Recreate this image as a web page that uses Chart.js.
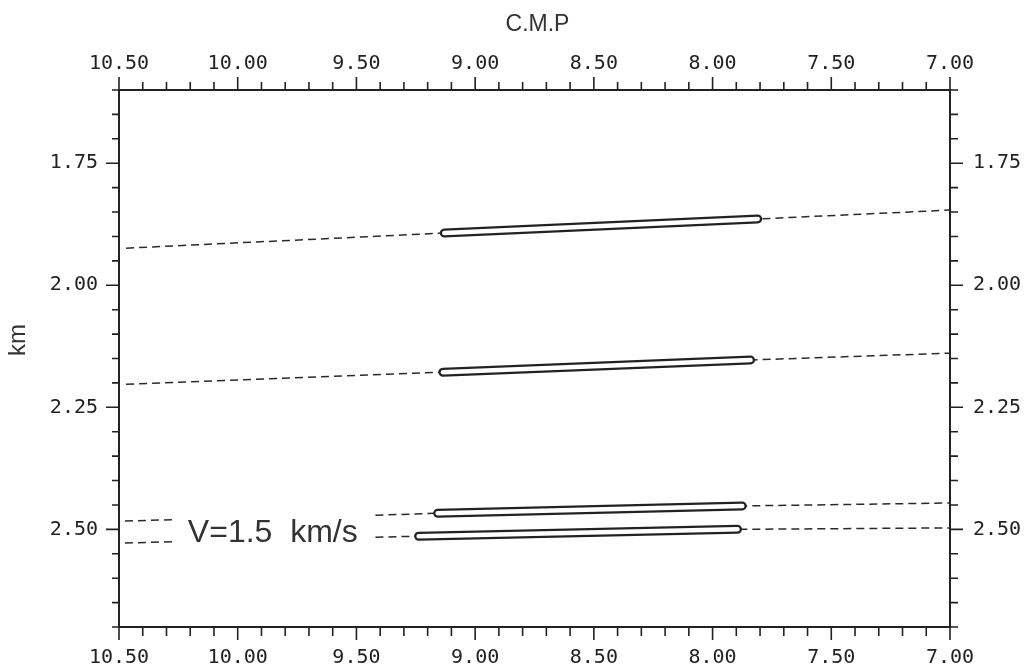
<!DOCTYPE html>
<html>
<head>
<meta charset="utf-8">
<script src="https://cdn.jsdelivr.net/npm/chart.js@4"></script>
<style>
  body { margin: 0; background: #fff; }
  canvas { display: block; }
</style>
</head>
<body>
<canvas id="cmpChart" width="1028" height="667"></canvas>
<script>
// Axis ranges and labelled ticks
const cmpRange = [7.00, 10.50];
const depthRange = [1.60, 2.70];
const cmpTicks = [10.50, 10.00, 9.50, 9.00, 8.50, 8.00, 7.50, 7.00];
const depthTicks = [1.75, 2.00, 2.25, 2.50];
const cmpMinorStep = 0.1;
const depthMinorStep = 0.05;

// Reflector traces (dashed), null = gap
const line1Cmp = [10.47, 9.13, 7.80, 7.00];
const line1Depth = [1.924, 1.893, 1.864, 1.846];
const line2Cmp = [10.47, 9.136, 7.836, 7.00];
const line2Depth = [2.203, 2.178, 2.153, 2.139];
const line3Cmp = [10.475, 10.26, 10.0, 9.42, 9.158, 7.87, 7.00];
const line3Depth = [2.483, 2.480, null, 2.471, 2.467, 2.452, 2.446];
const line4Cmp = [10.475, 10.26, 10.0, 9.42, 9.238, 7.89, 7.00];
const line4Depth = [2.528, 2.525, null, 2.516, 2.514, 2.500, 2.497];

// Picked segments (drawn as hollow tubes)
const tube1Cmp = [9.13, 7.81];
const tube1Depth = [1.893, 1.864];
const tube2Cmp = [9.136, 7.84];
const tube2Depth = [2.178, 2.153];
const tube3Cmp = [9.158, 7.875];
const tube3Depth = [2.467, 2.452];
const tube4Cmp = [9.238, 7.895];
const tube4Depth = [2.514, 2.500];

// Annotation
const velocityText = 'V=1.5  km/s';
const velocityCmp = 10.21;
const velocityDepth = 2.508;

const ink = '#222';
const pts = (xs, ys) => xs.map((x, i) => ({ x: x, y: ys[i] }));

const dashed = (xs, ys) => ({
  data: pts(xs, ys), showLine: true, pointRadius: 0,
  borderColor: '#2a2a2a', borderWidth: 1.5, borderDash: [8, 5],
  spanGaps: false, order: 3
});
const tubeOuter = (xs, ys) => ({
  data: pts(xs, ys), showLine: true, pointRadius: 0,
  borderColor: ink, borderWidth: 9, borderCapStyle: 'round', order: 2
});
const tubeInner = (xs, ys) => ({
  data: pts(xs, ys), showLine: true, pointRadius: 0,
  borderColor: '#fff', borderWidth: 4.5, borderCapStyle: 'round', order: 1
});

// minor/major tick marks drawn outward, plus free text
const axisDecor = {
  id: 'axisDecor',
  afterDraw(chart) {
    const ctx = chart.ctx;
    const { x, xTop, y, yRight } = chart.scales;
    const isMajor = (list, v) => list.some(t => Math.abs(t - v) < 1e-6);
    ctx.save();
    ctx.strokeStyle = ink;
    ctx.lineWidth = 1.6;
    ctx.beginPath();
    const nx = Math.round((cmpRange[1] - cmpRange[0]) / cmpMinorStep);
    for (let i = 0; i <= nx; i++) {
      const v = +(cmpRange[0] + i * cmpMinorStep).toFixed(3);
      const major = isMajor(cmpTicks, v);
      const px = x.getPixelForValue(v);
      ctx.moveTo(px, x.top); ctx.lineTo(px, x.top + (major ? 13 : 9));
      ctx.moveTo(px, xTop.bottom); ctx.lineTo(px, xTop.bottom - (major ? 13 : 8));
    }
    const ny = Math.round((depthRange[1] - depthRange[0]) / depthMinorStep);
    for (let i = 0; i <= ny; i++) {
      const v = +(depthRange[0] + i * depthMinorStep).toFixed(3);
      const major = isMajor(depthTicks, v);
      const py = y.getPixelForValue(v);
      ctx.moveTo(y.right, py); ctx.lineTo(y.right - (major ? 13 : 7), py);
      ctx.moveTo(yRight.left, py); ctx.lineTo(yRight.left + (major ? 13 : 8), py);
    }
    ctx.stroke();

    ctx.fillStyle = '#333';
    ctx.textAlign = 'center';
    ctx.textBaseline = 'middle';
    ctx.font = '23px "Liberation Sans", Arial, sans-serif';
    const area = chart.chartArea;
    ctx.fillText('C.M.P', (area.left + area.right) / 2 + 3, 25);

    ctx.save();
    ctx.translate(18, 340);
    ctx.rotate(-Math.PI / 2);
    ctx.font = '24px "Liberation Sans", Arial, sans-serif';
    ctx.fillText('km', 0, 0);
    ctx.restore();

    ctx.textAlign = 'left';
    ctx.font = '32px "Liberation Sans", Arial, sans-serif';
    ctx.fillText(velocityText, x.getPixelForValue(velocityCmp), y.getPixelForValue(velocityDepth));
    ctx.restore();
  }
};

const tickFont = { family: '"DejaVu Sans Mono", monospace', size: 20 };
const border = { display: true, width: 2, color: ink };

const xAxis = (position, pad, size) => ({
  type: 'linear', axis: 'x', position: position,
  min: cmpRange[0], max: cmpRange[1], reverse: true,
  afterBuildTicks: s => { s.ticks = cmpTicks.map(v => ({ value: v })); },
  afterFit: s => { s.height = size; },
  ticks: { callback: v => v.toFixed(2), font: tickFont, color: ink, padding: pad, maxRotation: 0, autoSkip: false },
  grid: { display: false, drawTicks: false },
  border: border
});
const yAxis = (position, pad, size) => ({
  type: 'linear', axis: 'y', position: position,
  min: depthRange[0], max: depthRange[1], reverse: true,
  afterBuildTicks: s => { s.ticks = depthTicks.map(v => ({ value: v })); },
  afterFit: s => { s.width = size; },
  ticks: { callback: v => v.toFixed(2), font: tickFont, color: ink, padding: pad, autoSkip: false },
  grid: { display: false, drawTicks: false },
  border: border
});

new Chart(document.getElementById('cmpChart'), {
  type: 'scatter',
  data: {
    datasets: [
      dashed(line1Cmp, line1Depth),
      dashed(line2Cmp, line2Depth),
      dashed(line3Cmp, line3Depth),
      dashed(line4Cmp, line4Depth),
      tubeOuter(tube1Cmp, tube1Depth), tubeInner(tube1Cmp, tube1Depth),
      tubeOuter(tube2Cmp, tube2Depth), tubeInner(tube2Cmp, tube2Depth),
      tubeOuter(tube3Cmp, tube3Depth), tubeInner(tube3Cmp, tube3Depth),
      tubeOuter(tube4Cmp, tube4Depth), tubeInner(tube4Cmp, tube4Depth)
    ]
  },
  options: {
    responsive: false,
    devicePixelRatio: 1,
    animation: false,
    layout: { padding: 0 },
    plugins: { legend: { display: false }, tooltip: { enabled: false } },
    scales: {
      x: xAxis('bottom', 19, 40),
      xTop: xAxis('top', 14, 90),
      y: yAxis('left', 21, 119),
      yRight: yAxis('right', 23, 78)
    }
  },
  plugins: [axisDecor]
});
</script>
</body>
</html>
